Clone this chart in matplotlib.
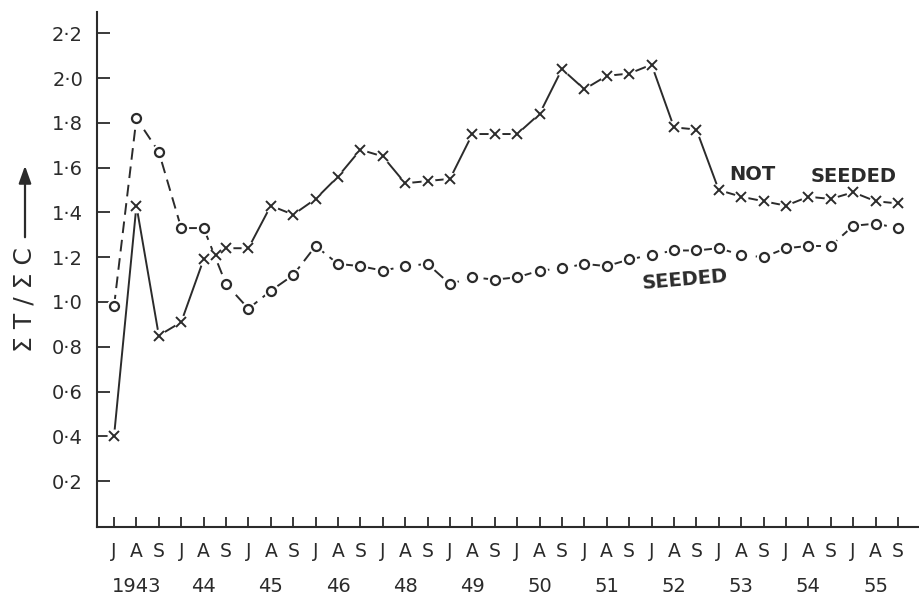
import matplotlib
matplotlib.use("Agg")
import matplotlib.pyplot as plt

# ---------------- data ----------------
months = ["J", "A", "S"] * 12
years = ["1943", "44", "45", "46", "48", "49", "50", "51", "52", "53", "54", "55"]
y_ticks = [0.2, 0.4, 0.6, 0.8, 1.0, 1.2, 1.4, 1.6, 1.8, 2.0, 2.2]
y_tick_labels = ["0·2", "0·4", "0·6", "0·8", "1·0", "1·2", "1·4", "1·6", "1·8", "2·0", "2·2"]

not_seeded_x = [0, 1, 2, 3, 4, 4.55, 5, 6, 7, 8, 9, 10, 11, 12, 13, 14, 15, 16, 17,
                18, 19, 20, 21, 22, 23, 24, 25, 26, 27, 28, 29, 30, 31, 32, 33, 34, 35]
not_seeded = [0.40, 1.43, 0.85, 0.91, 1.19, 1.21, 1.24, 1.24, 1.43, 1.39, 1.46, 1.56,
              1.68, 1.65, 1.53, 1.54, 1.55, 1.75, 1.75, 1.75, 1.84, 2.04, 1.95, 2.01,
              2.02, 2.06, 1.78, 1.77, 1.50, 1.47, 1.45, 1.43, 1.47, 1.46, 1.49, 1.45, 1.44]

seeded_x = list(range(36))
seeded = [0.98, 1.82, 1.67, 1.33, 1.33, 1.08, 0.97, 1.05, 1.12, 1.25, 1.17, 1.16,
          1.14, 1.16, 1.17, 1.08, 1.11, 1.10, 1.11, 1.14, 1.15, 1.17, 1.16, 1.19,
          1.21, 1.23, 1.23, 1.24, 1.21, 1.20, 1.24, 1.25, 1.25, 1.34, 1.35, 1.33]

ink = "#2b2b2b"
W, H = 919, 609

fig = plt.figure(figsize=(W / 100, H / 100), dpi=100)
ax = fig.add_axes([97 / W, 1 - 527 / H, (W - 97) / W, (527 - 12) / H])

# not seeded: solid line, x markers with white halo
ax.plot(not_seeded_x, not_seeded, color=ink, lw=1.4, zorder=2)
ax.plot(not_seeded_x, not_seeded, ls="none", marker="o", ms=9, mfc="white", mec="white", zorder=3)
ax.plot(not_seeded_x, not_seeded, ls="none", marker="x", ms=6.5, mew=1.4, color=ink, zorder=4)

# seeded: dashed line, hollow circles with white halo
ax.plot(seeded_x, seeded, color=ink, lw=1.4, ls=(0, (6, 3.5)), zorder=2)
ax.plot(seeded_x, seeded, ls="none", marker="o", ms=10, mfc="white", mec="white", zorder=3)
ax.plot(seeded_x, seeded, ls="none", marker="o", ms=6.5, mfc="white", mec=ink, mew=1.6, zorder=4)

ax.set_xlim(-0.76, 35.94)
ax.set_ylim(-0.005, 2.295)

for s in ["top", "right"]:
    ax.spines[s].set_visible(False)
for s in ["left", "bottom"]:
    ax.spines[s].set_linewidth(1.5)
    ax.spines[s].set_color(ink)

ax.set_yticks(y_ticks)
ax.set_yticklabels(y_tick_labels, fontsize=14, color=ink)
ax.tick_params(axis="y", direction="in", length=9, width=1.3, color=ink, pad=10)

ax.set_xticks(range(len(months)))
ax.set_xticklabels(months, fontsize=13.5, color=ink)
ax.tick_params(axis="x", direction="in", length=7, width=1.3, color=ink, pad=11)

for k, yr in enumerate(years):
    ax.annotate(yr, xy=(3 * k + 1, 0), xycoords=("data", "axes fraction"),
                xytext=(0, -36), textcoords="offset points",
                ha="center", va="top", fontsize=14, color=ink)

ax.text(28.5, 1.57, "NOT", fontsize=14, fontweight="bold", color=ink, ha="center", va="center")
ax.text(33.0, 1.56, "SEEDED", fontsize=14, fontweight="bold", color=ink, ha="center", va="center")
ax.text(25.5, 1.10, "SEEDED", fontsize=14, fontweight="bold", color=ink, ha="center", va="center",
        rotation=5)

fig.text(25 / W, 1 - 300 / H, "Σ T / Σ C", rotation=90, fontsize=18, color=ink,
         ha="center", va="center")
fig.add_artist(matplotlib.patches.FancyArrowPatch(
    (25 / W, 1 - 240 / H), (25 / W, 1 - 163 / H), transform=fig.transFigure,
    arrowstyle="-|>,head_length=0.7,head_width=0.25", mutation_scale=15,
    lw=1.6, color=ink))

fig.savefig("out.png", dpi=100, facecolor="white")
